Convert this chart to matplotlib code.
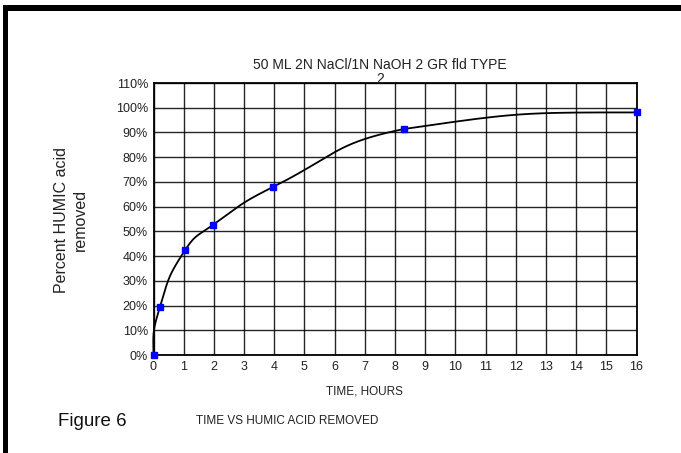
import numpy as np
import matplotlib
matplotlib.use("Agg")
import matplotlib.pyplot as plt
from matplotlib.patches import Rectangle
from matplotlib.ticker import FuncFormatter

# Data
time_hours = [0.0, 0.21, 1.04, 1.98, 3.95, 8.3, 16.0]
pct_removed = [0.0, 19.3, 42.3, 52.7, 67.9, 91.4, 98.1]
x_ticks = list(range(0, 17))
y_ticks = list(range(0, 111, 10))

title = "50 ML 2N NaCl/1N NaOH 2 GR fld TYPE\n2"
xlabel = "TIME, HOURS"
ylabel = "Percent HUMIC acid\nremoved"
fig_label = "Figure 6"
fig_caption = "TIME VS HUMIC ACID REMOVED"

plt.rcParams['font.family'] = ['Liberation Sans', 'DejaVu Sans']

W, H = 681, 453
fig = plt.figure(figsize=(W / 100, H / 100), dpi=100)
ax_l, ax_r, ax_t, ax_b = 153.5, 636.5, 83, 355
ax = fig.add_axes([ax_l / W, 1 - ax_b / H, (ax_r - ax_l) / W, (ax_b - ax_t) / H])

XMAX, YMAX = 16, 110
sx = (ax_r - ax_l) / XMAX
sy = (ax_b - ax_t) / YMAX


def _unit(v):
    return v / np.linalg.norm(v)


def smooth_curve(xs, ys, k=0.5, n=60):
    # smoothed line: cubic Bezier, tangents from neighbours, control length
    # proportional to segment length (computed in display-like space)
    P = np.column_stack([np.asarray(xs) * sx, np.asarray(ys) * sy]).astype(float)
    m = len(P)
    tang = [None] * m
    for i in range(1, m - 1):
        tang[i] = _unit(P[i + 1] - P[i - 1])
    # natural-like end conditions (reflect neighbour tangent about chord)
    tang[0] = _unit(2 * _unit(P[1] - P[0]) - tang[1])
    tang[-1] = _unit(2 * _unit(P[-1] - P[-2]) - tang[-2])
    out = []
    for i in range(m - 1):
        p1, p2 = P[i], P[i + 1]
        L = np.linalg.norm(p2 - p1) * k
        c1 = p1 + tang[i] * L
        c2 = p2 - tang[i + 1] * L
        lo, hi = min(p1[1], p2[1]), max(p1[1], p2[1])
        c1[1] = np.clip(c1[1], lo, hi)
        c2[1] = np.clip(c2[1], lo, hi)
        t = np.linspace(0, 1, n)[:, None]
        seg = ((1 - t) ** 3) * p1 + 3 * ((1 - t) ** 2) * t * c1 + 3 * (1 - t) * t ** 2 * c2 + t ** 3 * p2
        out.append(seg if i == 0 else seg[1:])
    c = np.vstack(out)
    return c[:, 0] / sx, c[:, 1] / sy


cx, cy = smooth_curve(time_hours, pct_removed)
ax.plot(cx, cy, color='black', lw=1.3, zorder=3, clip_on=False)
ax.plot(time_hours, pct_removed, linestyle='none', marker='s', markersize=5,
        markerfacecolor='#0000ff', markeredgecolor='#0000ff', zorder=4, clip_on=False)

ax.set_xlim(0, XMAX)
ax.set_ylim(0, YMAX)
ax.set_xticks(x_ticks)
ax.set_yticks(y_ticks)
ax.yaxis.set_major_formatter(FuncFormatter(lambda v, p: f"{int(round(v))}%"))
ax.grid(True, color='black', lw=1.0, alpha=0.85)
ax.set_axisbelow(True)
for s in ax.spines.values():
    s.set_linewidth(1.3)
    s.set_color('black')
ax.tick_params(axis='both', length=0, labelsize=9, colors='#222222', pad=4)

fig.text(380 / W, 1 - 72 / H, title, ha='center', va='center', fontsize=10,
         color='#222222', linespacing=0.95)
fig.text(364 / W, 1 - 392 / H, xlabel, ha='center', va='center', fontsize=8.5,
         color='#222222')
fig.text(71 / W, 1 - 220 / H, ylabel, ha='center', va='center', fontsize=11.5,
         rotation=90, color='#222222', linespacing=1.3)
fig.text(58 / W, 1 - 421 / H, fig_label, ha='left', va='center', fontsize=13.5,
         color='#111111')
fig.text(196 / W, 1 - 421 / H, fig_caption, ha='left', va='center', fontsize=8.5,
         color='#222222')

# scan frame (black bands at top and left)
fig.patches.append(Rectangle((3 / W, 1 - 11 / H), 1 - 3 / W, 6 / H, transform=fig.transFigure,
                             facecolor='black', edgecolor='none'))
fig.patches.append(Rectangle((3 / W, 0), 5 / W, 1 - 5 / H, transform=fig.transFigure,
                             facecolor='black', edgecolor='none'))

fig.savefig("out.png", dpi=100)
